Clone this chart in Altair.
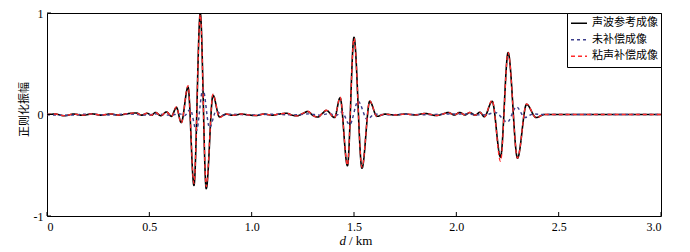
import altair as alt
import pandas as pd

SERIES = ["声波参考成像", "未补偿成像", "粘声补偿成像"]
COLORS = ["#000000", "#3d3f8c", "#ff2b2b"]
DASHES = [[1, 0], [3, 3], [4, 3]]
WIDTHS = [1.6, 1.3, 1.5]

X_TICKS = [0, 0.5, 1.0, 1.5, 2.0, 2.5, 3.0]
X_TICK_LABELS = ["0", "0.5", "1.0", "1.5", "2.0", "2.5", "3.0"]
Y_TICKS = [-1, 0, 1]
Y_TICK_LABELS = ["-1", "0", "1"]
X_TITLE_VAR = "d"
X_TITLE_UNIT = "/ km"
Y_TITLE = "正则化振幅"

# 声波参考成像 (black)
REF_D = [0.000, 0.040, 0.085, 0.130, 0.175, 0.220, 0.265, 0.310, 0.350, 0.395,
         0.436, 0.462, 0.490, 0.510, 0.530, 0.556, 0.584, 0.608, 0.632, 0.656,
         0.689, 0.718, 0.749, 0.778, 0.811, 0.843, 0.875, 0.910, 0.950, 0.990,
         1.023, 1.060, 1.100, 1.140, 1.170, 1.200, 1.222, 1.250, 1.274, 1.300,
         1.323, 1.345, 1.365, 1.405, 1.432, 1.468, 1.500, 1.539, 1.577, 1.612,
         1.650, 1.700, 1.750, 1.800, 1.846, 1.903, 1.935, 1.960, 1.990, 2.017,
         2.042, 2.066, 2.092, 2.115, 2.137, 2.175, 2.216, 2.253, 2.299, 2.343,
         2.390, 2.430, 2.500, 3.000]
REF_A = [0.000, 0.004, -0.012, 0.004, -0.008, 0.006, -0.006, 0.005, -0.006, 0.008,
         0.015, -0.006, 0.012, -0.008, 0.020, -0.012, 0.025, -0.018, 0.070, -0.080,
         0.270, -0.700, 1.000, -0.730, 0.190, -0.025, 0.004, -0.008, 0.004, -0.006,
         -0.010, 0.004, -0.006, 0.006, 0.012, -0.008, -0.012, 0.010, 0.030, -0.010,
         -0.025, 0.010, 0.040, -0.030, 0.165, -0.505, 0.760, -0.530, 0.130, -0.018,
         0.004, -0.005, 0.004, -0.004, 0.010, -0.010, 0.005, 0.020, -0.005, 0.020,
         -0.005, 0.020, -0.008, 0.022, -0.022, 0.130, -0.420, 0.610, -0.430, 0.100,
         -0.030, 0.000, 0.000, 0.000]

# 未补偿成像 (blue dashed)
UNC_D = [0.000, 0.085, 0.200, 0.300, 0.400, 0.480, 0.540, 0.600, 0.650, 0.672,
         0.700, 0.730, 0.762, 0.794, 0.826, 0.860, 0.900, 1.000, 1.100, 1.200,
         1.280, 1.330, 1.380, 1.412, 1.440, 1.479, 1.520, 1.565, 1.600, 1.650,
         1.750, 1.850, 1.950, 2.050, 2.120, 2.150, 2.190, 2.249, 2.294, 2.335,
         2.375, 2.420, 3.000]
UNC_A = [0.000, -0.008, 0.003, -0.004, 0.004, -0.005, 0.006, -0.006, 0.006, -0.012,
         0.050, -0.160, 0.250, -0.130, 0.030, -0.006, 0.002, -0.004, 0.003, -0.004,
         0.006, -0.006, 0.008, -0.010, 0.025, -0.100, 0.130, -0.050, 0.005, -0.004,
         0.002, -0.002, 0.004, 0.004, -0.004, 0.000, 0.020, -0.075, 0.075, -0.030,
         0.005, 0.000, 0.000]

# 粘声补偿成像 (red dashed)
CMP_D = REF_D
CMP_A = [0.000, 0.005, -0.011, 0.005, -0.007, 0.006, -0.006, 0.006, -0.005, 0.009,
         0.016, -0.007, 0.013, -0.008, 0.022, -0.013, 0.027, -0.020, 0.075, -0.085,
         0.285, -0.680, 0.985, -0.710, 0.200, -0.030, 0.005, -0.008, 0.005, -0.006,
         -0.010, 0.005, -0.006, 0.007, 0.013, -0.008, -0.013, 0.011, 0.032, -0.011,
         -0.027, 0.011, 0.042, -0.032, 0.170, -0.500, 0.750, -0.520, 0.135, -0.020,
         0.004, -0.005, 0.004, -0.004, 0.011, -0.010, 0.005, 0.021, -0.005, 0.021,
         -0.005, 0.021, -0.008, 0.024, -0.024, 0.140, -0.460, 0.610, -0.430, 0.105,
         -0.032, 0.000, 0.000, 0.000]

rows = []
for name, ds, as_ in [(SERIES[0], REF_D, REF_A), (SERIES[1], UNC_D, UNC_A), (SERIES[2], CMP_D, CMP_A)]:
    for d, a in zip(ds, as_):
        rows.append({"series": name, "d": d, "amp": a})
df = pd.DataFrame(rows)


def label_expr(vals, labels):
    expr = "''"
    for v, l in reversed(list(zip(vals, labels))):
        expr = f"abs(datum.value - ({v})) < 1e-6 ? '{l}' : ({expr})"
    return expr


SERIF = "Liberation Serif"
CJK = "Noto Sans CJK SC"
W, H = 614, 203

x_axis = alt.Axis(values=X_TICKS, labelExpr=label_expr(X_TICKS, X_TICK_LABELS),
                  title=None, ticks=False, domain=False, grid=False,
                  labelFont=SERIF, labelFontSize=12, labelColor="black", labelPadding=5)
y_axis = alt.Axis(values=Y_TICKS, labelExpr=label_expr(Y_TICKS, Y_TICK_LABELS),
                  title=Y_TITLE, ticks=False, domain=False, grid=False,
                  labelFont=SERIF, labelFontSize=12, labelColor="black", labelPadding=4,
                  titleFont=CJK, titleFontSize=11, titleFontWeight="normal", titleColor="black",
                  titleAngle=270, titleX=-23, titleY=96, titleAlign="center", titleBaseline="middle")

x_enc = alt.X("d:Q", scale=alt.Scale(domain=[0, 3], nice=False, zero=False), axis=x_axis)
y_enc = alt.Y("amp:Q", scale=alt.Scale(domain=[-1, 1], nice=False), axis=y_axis)

lines = alt.Chart(df).mark_line(interpolate="monotone", clip=True).encode(
    x=x_enc,
    y=y_enc,
    color=alt.Color("series:N", scale=alt.Scale(domain=SERIES, range=COLORS),
                    legend=alt.Legend(title=None, orient="top-right", offset=0, padding=3,
                                      strokeColor="black", fillColor="white",
                                      labelFont=CJK, labelFontSize=11, labelColor="black",
                                      symbolType="stroke", symbolSize=256, symbolStrokeWidth=1.5,
                                      rowPadding=1.5, clipHeight=14.5, labelOffset=4, cornerRadius=0)),
    strokeDash=alt.StrokeDash("series:N", scale=alt.Scale(domain=SERIES, range=DASHES),
                              legend=alt.Legend(title=None)),
    strokeWidth=alt.StrokeWidth("series:N", scale=alt.Scale(domain=SERIES, range=WIDTHS), legend=None),
    order=alt.Order("series_order:Q"),
).transform_calculate(
    series_order="indexof(" + str(SERIES).replace('"', "'") + ", datum.series)"
)

xticks = alt.Chart(pd.DataFrame({"d": X_TICKS})).mark_rule(color="black", strokeWidth=1).encode(
    x=x_enc, y=alt.value(H - 4), y2=alt.value(H))
yticks = alt.Chart(pd.DataFrame({"amp": Y_TICKS})).mark_rule(color="black", strokeWidth=1).encode(
    y=y_enc, x=alt.value(0), x2=alt.value(4))

title_df = pd.DataFrame({"t": [0]})
xt_var = alt.Chart(title_df).mark_text(text=X_TITLE_VAR, font=SERIF, fontSize=13, fontStyle="italic",
                                       align="right", baseline="middle", color="black").encode(
    x=alt.value(W / 2 - 8), y=alt.value(H + 25))
xt_unit = alt.Chart(title_df).mark_text(text=X_TITLE_UNIT, font=SERIF, fontSize=13,
                                        align="left", baseline="middle", color="black").encode(
    x=alt.value(W / 2 - 5), y=alt.value(H + 25))

chart = alt.layer(lines, xticks, yticks, xt_var, xt_unit).properties(
    width=W, height=H,
    padding={"left": 47, "top": 13, "right": 29, "bottom": 36},
    autosize=alt.AutoSizeParams(type="none"),
    background="white",
).configure_view(stroke="black", strokeWidth=1)

chart.save("out.html", embed_options={"renderer": "svg", "actions": False})
